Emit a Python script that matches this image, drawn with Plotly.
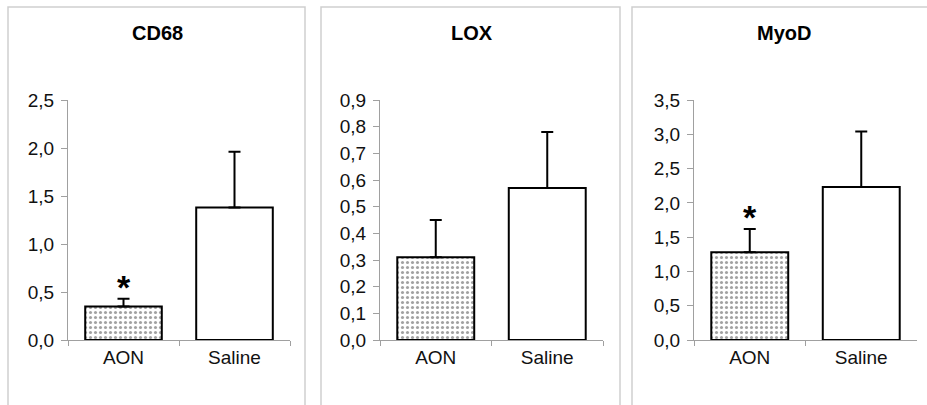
import plotly.graph_objects as go

categories = ["AON", "Saline"]
titles = ["CD68", "LOX", "MyoD"]
means = [[0.35, 1.38], [0.31, 0.57], [1.28, 2.23]]
upper = [[0.43, 1.96], [0.45, 0.78], [1.62, 3.04]]
significant = [[True, False], [False, False], [True, False]]
y_max = [2.5, 0.9, 3.5]
y_step = [0.5, 0.1, 0.5]

W, H = 927, 405
# target pixel layout of each panel
ax_px = [(68, 290), (380, 603), (694, 917)]
box_px = [(8, 305), (321, 620), (632, 940)]
title_cx = [157, 472, 784]
y0_px, ytop_px, title_y, box_top = 340, 100, 33, 7


def fx(p):
    return p / W


def fy(p):
    return (H - p) / H


fig = go.Figure()
font = "Liberation Sans, Arial, sans-serif"

for i in range(3):
    xa = "x" if i == 0 else f"x{i+1}"
    ya = "y" if i == 0 else f"y{i+1}"
    errs = [u - m for u, m in zip(upper[i], means[i])]
    fig.add_trace(go.Bar(
        x=categories, y=means[i], xaxis=xa, yaxis=ya,
        marker=dict(
            color=["white", "white"],
            line=dict(color="black", width=2),
            pattern=dict(shape=[".", ""], fgcolor="#3a3a3a", bgcolor="white",
                         size=5, solidity=0.3, fillmode="overlay"),
        ),
        error_y=dict(type="data", symmetric=False, array=errs,
                     arrayminus=[0, 0], color="black", thickness=2, width=6),
        showlegend=False, hoverinfo="skip",
    ))
    for j, c in enumerate(categories):
        if significant[i][j]:
            fig.add_annotation(x=c, y=upper[i][j], xref=xa, yref=ya,
                               text="<b>*</b>", showarrow=False, yanchor="bottom",
                               xanchor="center", yshift=-9,
                               font=dict(family=font, size=34, color="black"))
    l, r = ax_px[i]
    dom_x = [fx(l), fx(r)]
    dom_y = [fy(y0_px), fy(ytop_px)]
    n = round(y_max[i] / y_step[i])
    tv = [round(k * y_step[i], 2) for k in range(n + 1)]
    xk = "xaxis" if i == 0 else f"xaxis{i+1}"
    yk = "yaxis" if i == 0 else f"yaxis{i+1}"
    fig.update_layout(**{
        xk: dict(domain=dom_x, anchor=ya, range=[-0.5, 1.5], type="category",
                 showline=True, linecolor="#a0a0a0", linewidth=1, automargin=False,
                 ticks="outside", tickson="boundaries", ticklen=5, tickcolor="#a0a0a0",
                 showgrid=False, tickfont=dict(family=font, size=19, color="#111111"),
                 fixedrange=True),
        yk: dict(domain=dom_y, anchor=xa, range=[0, y_max[i]], automargin=False,
                 tickvals=tv, tickformat=".1f",
                 showline=True, linecolor="#a0a0a0", linewidth=1,
                 ticks="outside", ticklen=6, tickcolor="#a0a0a0",
                 showgrid=False, zeroline=False, ticklabelstandoff=3,
                 tickfont=dict(family=font, size=19, color="#111111"),
                 fixedrange=True),
    })
    bl, br = box_px[i]
    fig.add_shape(type="rect", xref="paper", yref="paper",
                  x0=fx(bl), x1=fx(br), y0=-0.1, y1=fy(box_top),
                  line=dict(color="#cfcfcf", width=1.5), fillcolor="rgba(0,0,0,0)",
                  layer="below")
    fig.add_annotation(x=fx(title_cx[i]), y=fy(title_y), xanchor="center", yanchor="middle",
                       xref="paper", yref="paper", text=f"<b>{titles[i]}</b>",
                       showarrow=False, font=dict(family=font, size=20, color="black"))

fig.update_layout(width=W, height=H, margin=dict(l=0, r=0, t=0, b=0, autoexpand=False),
                  paper_bgcolor="white", plot_bgcolor="white",
                  separators=",.", bargap=0.31)
fig.write_html("out.html", config={"displayModeBar": False},
               post_script="document.body.style.margin='0px';")
